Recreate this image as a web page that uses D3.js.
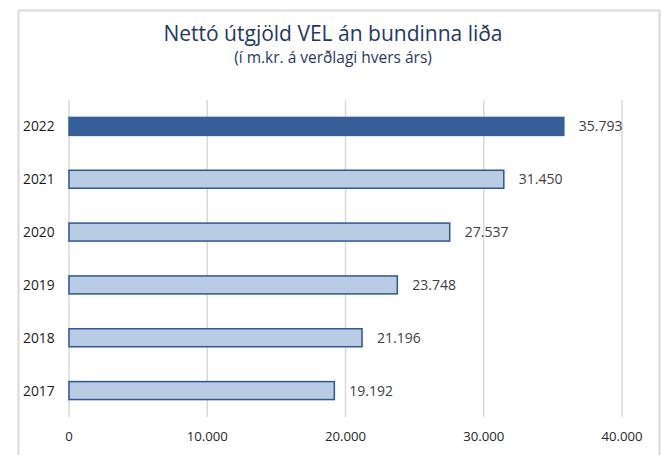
<!DOCTYPE html>
<html>
<head>
<meta charset="utf-8">
<script src="https://cdn.jsdelivr.net/npm/d3@7"></script>
<style>
  body { margin: 0; background: #fff; }
  text { font-family: "Open Sans", "Noto Sans", sans-serif; }
</style>
</head>
<body>
<div id="chart"></div>
<script>
const years = ['2022', '2021', '2020', '2019', '2018', '2017'];
const values = [35793, 31450, 27537, 23748, 21196, 19192];
const tickValues = [0, 10000, 20000, 30000, 40000];

const width = 661, height = 455;
const margin = {top: 100, right: 39, bottom: 38, left: 69};

const svg = d3.select('#chart')
    .append('svg')
    .attr('width', width)
    .attr('height', height);

svg.append('rect')
    .attr('width', width)
    .attr('height', height)
    .attr('fill', '#fff');

// frame of the chart area (open at the bottom)
svg.append('path')
    .attr('d', 'M18.5,' + height + ' V10.5 H659.5 V' + height)
    .attr('fill', 'none')
    .attr('stroke', '#d9d9d9')
    .attr('stroke-width', 2);

const x = d3.scaleLinear()
    .domain([0, 40000])
    .range([margin.left, width - margin.right]);

const y = d3.scaleBand()
    .domain(years)
    .range([margin.top, height - margin.bottom])
    .paddingInner(0.66)
    .paddingOuter(0.33);

const fmt = (v) => d3.format(',')(v).replace(/,/g, '.');

// gridlines
svg.append('g')
    .selectAll('line')
    .data(tickValues)
    .enter()
    .append('line')
    .attr('x1', (d) => x(d))
    .attr('x2', (d) => x(d))
    .attr('y1', margin.top)
    .attr('y2', height - margin.bottom)
    .attr('stroke', '#d9d9d9')
    .attr('stroke-width', 1.5);

// x tick labels
svg.append('g')
    .selectAll('text')
    .data(tickValues)
    .enter()
    .append('text')
    .attr('x', (d) => x(d))
    .attr('y', 441)
    .attr('text-anchor', 'middle')
    .attr('font-size', 13.2)
    .attr('fill', '#262626')
    .text((d) => fmt(d));

// bars
svg.append('g')
    .selectAll('rect')
    .data(years)
    .enter()
    .append('rect')
    .attr('x', x(0))
    .attr('y', (d) => y(d))
    .attr('width', (d, i) => x(values[i]) - x(0))
    .attr('height', y.bandwidth())
    .attr('fill', (d, i) => i === 0 ? '#365f99' : '#b8cce4')
    .attr('stroke', (d, i) => i === 0 ? '#365f99' : '#2f5597')
    .attr('stroke-width', 1.5);

// value labels
svg.append('g')
    .selectAll('text')
    .data(years)
    .enter()
    .append('text')
    .attr('x', (d, i) => x(values[i]) + 15)
    .attr('y', (d) => y(d) + y.bandwidth() / 2 + 5)
    .attr('font-size', 14)
    .attr('fill', '#404040')
    .text((d, i) => fmt(values[i]));

// year labels
svg.append('g')
    .selectAll('text')
    .data(years)
    .enter()
    .append('text')
    .attr('x', 23)
    .attr('y', (d) => y(d) + y.bandwidth() / 2 + 5)
    .attr('font-size', 13.8)
    .attr('fill', '#1a1a1a')
    .text((d) => d);

// title
svg.append('text')
    .attr('x', 333)
    .attr('y', 41)
    .attr('text-anchor', 'middle')
    .attr('font-size', 21)
    .attr('fill', '#1f3864')
    .text('Nettó útgjöld VEL án bundinna liða');

svg.append('text')
    .attr('x', 333)
    .attr('y', 63)
    .attr('text-anchor', 'middle')
    .attr('font-size', 15.5)
    .attr('fill', '#1f3864')
    .text('(í m.kr. á verðlagi hvers árs)');
</script>
</body>
</html>
